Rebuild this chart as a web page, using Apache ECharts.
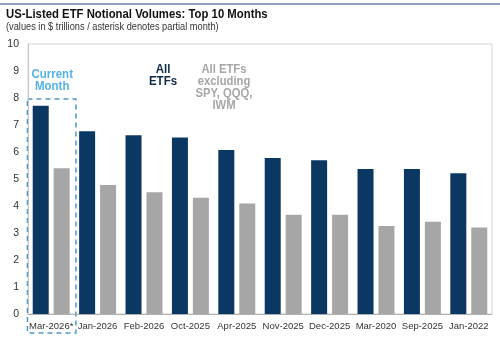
<!DOCTYPE html>
<html><head><meta charset="utf-8">
<script src="https://cdn.jsdelivr.net/npm/echarts@6/dist/echarts.min.js"></script>
<style>html,body{margin:0;padding:0;background:#fff}#c{width:500px;height:338px}</style>
</head><body><div id="c"></div>
<script>
const categories = ['Mar-2026*','Jan-2026','Feb-2026','Oct-2025','Apr-2025','Nov-2025','Dec-2025','Mar-2020','Sep-2025','Jan-2022'];
const allEtfs = [7.71, 6.77, 6.62, 6.54, 6.07, 5.78, 5.69, 5.37, 5.37, 5.21];
const exBig3 = [5.40, 4.78, 4.51, 4.31, 4.09, 3.68, 3.68, 3.26, 3.42, 3.20];
const yTicks = [0,1,2,3,4,5,6,7,8,9,10];

const FONT = '"Liberation Sans", Arial, sans-serif';
const chart = echarts.init(document.getElementById('c'), null, {renderer:'canvas'});
const option = {
  animation: false,
  textStyle: {fontFamily: FONT},
  grid: {left: 28, right: 8, top: 44, bottom: 24, show: true, borderColor: '#d4d4d4', borderWidth: 1},
  xAxis: {
    type: 'category', data: categories,
    axisLine: {lineStyle: {color: '#b0b0b0'}},
    axisTick: {show: false},
    axisLabel: {color: '#333', fontSize: 9.5, margin: 7, interval: 0, fontFamily: FONT}
  },
  yAxis: {
    type: 'value', min: yTicks[0], max: yTicks[yTicks.length-1], interval: 1,
    splitLine: {show: false},
    axisLine: {show: true, lineStyle: {color: '#c8c8c8'}},
    axisTick: {show: false},
    axisLabel: {color: '#333', fontSize: 10.5, margin: 9, fontFamily: FONT}
  },
  series: [
    {type: 'bar', name: 'All ETFs', data: allEtfs, barWidth: 16, barGap: '31%', itemStyle: {color: '#0b3763'}},
    {type: 'bar', name: 'All ETFs excluding SPY, QQQ, IWM', data: exBig3, barWidth: 16, itemStyle: {color: '#a6a6a6'}}
  ]
};
chart.setOption(option);

function addGraphics(){
  const p0 = chart.convertToPixel({xAxisIndex:0}, categories[0]);
  const band = 465/categories.length;
  const yTop = chart.convertToPixel({yAxisIndex:0}, 8.0);
  const left = p0 - band/2 - 0.5, right = p0 + band/2 + 1.5;
  chart.setOption({graphic: [
    {type:'line', shape:{x1:0,y1:4,x2:500,y2:4}, style:{stroke:'#8ea3bb', lineWidth:2}},
    {type:'text', x: 6, y: 7, scaleX: 0.84, style:{text:'US-Listed ETF Notional Volumes: Top 10 Months', font:'bold 13.5px '+FONT, fill:'#111', verticalAlign:'top'}},
    {type:'text', x: 6, y: 22, scaleX: 0.88, style:{text:'(values in $ trillions / asterisk denotes partial month)', font:'10.5px '+FONT, fill:'#333', verticalAlign:'top'}},
    {type:'rect', shape:{x:left, y:yTop+1, width:right-left, height:333-yTop-1}, style:{fill:'none', stroke:'#4d9ac4', lineWidth:1.5, lineDash:[5,4]}},
    {type:'text', x: p0+1, y: 68, scaleX: 0.92, style:{text:'Current\nMonth', font:'bold 12.5px '+FONT, fill:'#55b2e4', align:'center', lineHeight:12.5}},
    {type:'text', x: 163, y: 63, scaleX: 0.92, style:{text:'All\nETFs', font:'bold 12.5px '+FONT, fill:'#0b2a4a', align:'center', lineHeight:12.5}},
    {type:'text', x: 224, y: 63, scaleX: 0.9, style:{text:'All ETFs\nexcluding\nSPY, QQQ,\nIWM', font:'bold 12.5px '+FONT, fill:'#a6a6a6', align:'center', lineHeight:12.2}}
  ]});
}
addGraphics();
</script></body></html>
